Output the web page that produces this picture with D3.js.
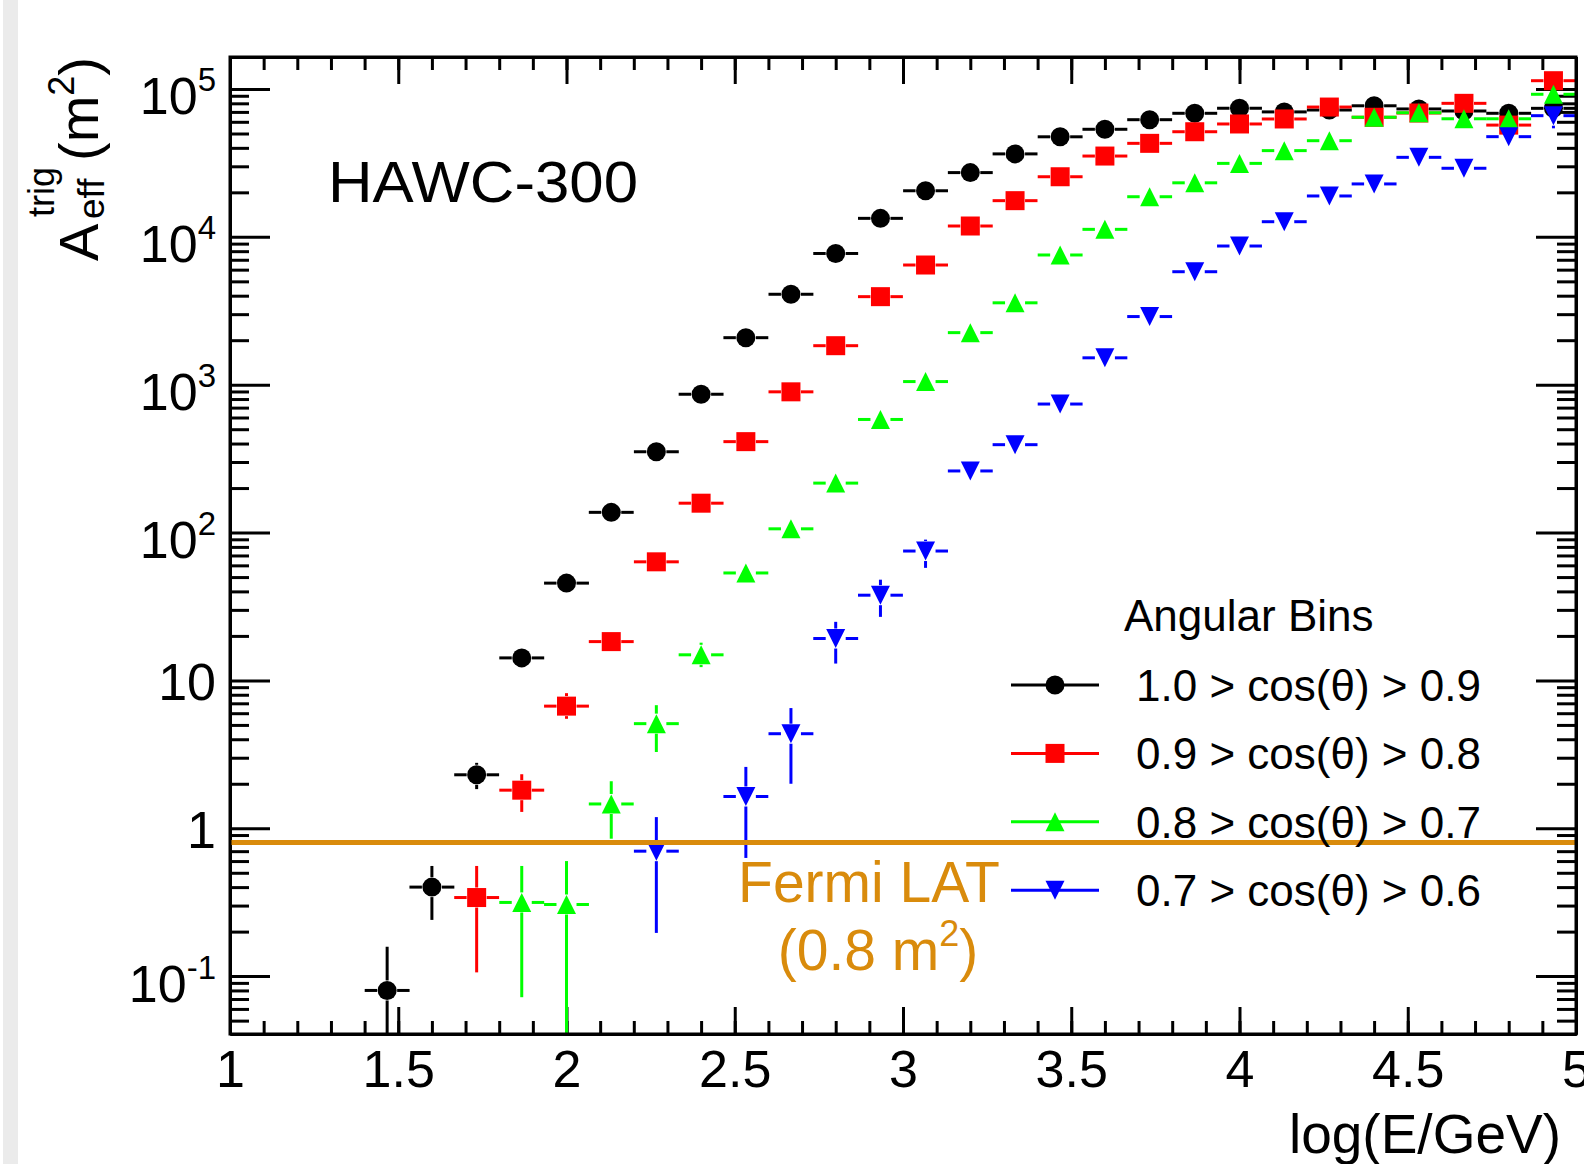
<!DOCTYPE html>
<html>
<head>
<meta charset="utf-8">
<script src="https://cdn.jsdelivr.net/npm/d3@7"></script>
<style>
  body { margin: 0; background: #fff; }
  svg { display: block; }
  text { font-family: "Liberation Sans", Arial, Helvetica, sans-serif; }
</style>
</head>
<body>
<svg id="chart" width="1584" height="1164"></svg>
<script>
// log10(E/GeV) bin centres (30 bins from 1 to 5, only filled ones kept)
const binCentres = [1.467, 1.6, 1.733, 1.867, 2.0, 2.133, 2.267, 2.4, 2.533, 2.667, 2.8, 2.933, 3.067,
  3.2, 3.333, 3.467, 3.6, 3.733, 3.867, 4.0, 4.133, 4.267, 4.4, 4.533, 4.667, 4.8, 4.933];
const binHalfWidth = 0.0667;

// effective area (m^2) per angular bin
const bin1 = [0.08, 0.40, 2.3, 14.2, 45.5, 137, 352, 862, 2080, 4090, 7720, 13340, 20500,
  27200, 36400, 47500, 53400, 62000, 68500, 74100, 70000, 72100, 77000, 73300, 71000, 68500, 74000];
const bin1Lo = [0.01, 0.24, 1.84];
const bin1Hi = [0.158, 0.556, 2.77];

const bin2 = [null, null, 0.34, 1.81, 6.7, 18.3, 63.4, 158, 412, 895, 1836, 3940, 6450,
  11840, 17570, 25500, 35200, 42900, 51400, 58000, 62700, 75500, 64400, 68800, 80000, 57000, 113800];
const bin2Lo = [null, null, 0.106, 1.29, 5.5];
const bin2Hi = [null, null, 0.556, 2.32, 8.2];

const bin3 = [null, null, null, 0.315, 0.305, 1.46, 5.1, 14.9, 53.3, 106, 216, 582, 1050,
  2250, 3580, 7540, 11240, 18680, 23200, 31400, 38300, 44700, 64400, 69100, 62900, 62900, 92100];
const bin3Lo = [null, null, null, 0.072, 0.01, 0.85, 3.28, 12.3];
const bin3Hi = [null, null, null, 0.556, 0.60, 2.08, 6.8, 18];

const bin4 = [null, null, null, null, null, null, 0.70, null, 1.64, 4.36, 19.2, 37.7, 75,
  261, 393, 740, 1520, 2890, 5810, 8670, 12660, 18900, 22800, 34500, 29100, 47600, 66000];
const bin4Lo = [null, null, null, null, null, null, 0.196, null, 0.63, 2.0, 13.0, 26.9, 57.7];
bin4Lo[26] = 54200;
const bin4Hi = [null, null, null, null, null, null, 1.19, null, 2.6, 6.5, 24.9, 48, 89.6];

const legendLabels = ["1.0 > cos(\u03b8) > 0.9", "0.9 > cos(\u03b8) > 0.8",
  "0.8 > cos(\u03b8) > 0.7", "0.7 > cos(\u03b8) > 0.6"];

const xTicks = [1, 1.5, 2, 2.5, 3, 3.5, 4, 4.5, 5];
const yTicks = [0.1, 1, 10, 100, 1000, 10000, 100000];
const fermiArea = 0.8;

const svg = d3.select("#chart");
const pLeft = 230, pRight = 1576, pTop = 57, pBottom = 1034;

svg.append("rect").attr("x", 3).attr("y", 0).attr("width", 15).attr("height", 1164).attr("fill", "#ebebeb");

const x = d3.scaleLinear().domain([1, 5]).range([pLeft, pRight]);
const y = d3.scaleLog().domain([0.0406, 1.646e5]).range([pBottom, pTop]);

svg.append("defs").append("clipPath").attr("id", "plotclip")
  .append("rect").attr("x", pLeft).attr("y", pTop).attr("width", pRight - pLeft).attr("height", pBottom - pTop);

// ---- axes ----
function styleAxis(g) {
  g.select(".domain").attr("stroke-width", 3);
  g.selectAll(".tick line").attr("stroke-width", 3);
}

const xMinor = d3.range(11, 50).map(d => d / 10);
const yMinor = [];
for (let k = -2; k <= 5; k++) for (let m = 2; m <= 9; m++) {
  const v = m * Math.pow(10, k);
  if (v > y.domain()[0] && v < y.domain()[1]) yMinor.push(v);
}

// bottom
svg.append("g").attr("transform", `translate(0,${pBottom})`)
  .call(d3.axisBottom(x).tickValues(xMinor).tickSize(-13).tickSizeOuter(0).tickFormat(""))
  .call(styleAxis);
const xAx = svg.append("g").attr("transform", `translate(0,${pBottom})`)
  .call(d3.axisBottom(x).tickValues(xTicks).tickSize(-27).tickSizeOuter(0).tickPadding(16).tickFormat(d3.format("")))
  .call(styleAxis);
xAx.selectAll(".tick text").attr("font-size", 52).attr("font-family", "Liberation Sans, Arial, sans-serif").attr("fill", "#000");

// top
svg.append("g").attr("transform", `translate(0,${pTop})`)
  .call(d3.axisTop(x).tickValues(xMinor).tickSize(-13).tickSizeOuter(0).tickFormat(""))
  .call(styleAxis);
svg.append("g").attr("transform", `translate(0,${pTop})`)
  .call(d3.axisTop(x).tickValues(xTicks).tickSize(-27).tickSizeOuter(0).tickFormat(""))
  .call(styleAxis);

// left
svg.append("g").attr("transform", `translate(${pLeft},0)`)
  .call(d3.axisLeft(y).tickValues(yMinor).tickSize(-19).tickSizeOuter(0).tickFormat(""))
  .call(styleAxis);
const yAx = svg.append("g").attr("transform", `translate(${pLeft},0)`)
  .call(d3.axisLeft(y).tickValues(yTicks).tickSize(-40).tickSizeOuter(0).tickPadding(14).tickFormat(() => ""))
  .call(styleAxis);
yAx.selectAll(".tick text")
  .attr("font-size", 52).attr("font-family", "Liberation Sans, Arial, sans-serif").attr("fill", "#000")
  .attr("dy", "0.36em")
  .each(function (d) {
    const t = d3.select(this);
    const e = Math.round(Math.log10(d));
    if (e === 0) { t.text("1"); return; }
    if (e === 1) { t.text("10"); return; }
    t.attr("dy", "0.48em");
    t.append("tspan").text("10");
    t.append("tspan").attr("font-size", 33).attr("dy", -23).text(e);
  });

// right
svg.append("g").attr("transform", `translate(${pRight},0)`)
  .call(d3.axisRight(y).tickValues(yMinor).tickSize(-19).tickSizeOuter(0).tickFormat(""))
  .call(styleAxis);
svg.append("g").attr("transform", `translate(${pRight},0)`)
  .call(d3.axisRight(y).tickValues(yTicks).tickSize(-40).tickSizeOuter(0).tickFormat(""))
  .call(styleAxis);

// ---- markers ----
const R = 9.5;
function marker(g, shape, cx, cy, color) {
  if (shape === "circle") {
    g.append("circle").attr("cx", cx).attr("cy", cy).attr("r", R).attr("fill", color);
  } else if (shape === "square") {
    g.append("rect").attr("x", cx - R).attr("y", cy - R).attr("width", 2 * R).attr("height", 2 * R).attr("fill", color);
  } else if (shape === "up") {
    g.append("path").attr("d", `M${cx - R},${cy + R}L${cx + R},${cy + R}L${cx},${cy - R}Z`).attr("fill", color);
  } else {
    g.append("path").attr("d", `M${cx - R},${cy - R}L${cx + R},${cy - R}L${cx},${cy + R}Z`).attr("fill", color);
  }
}

const series = [
  { vals: bin1, lo: bin1Lo, hi: bin1Hi, color: "#000000", shape: "circle" },
  { vals: bin2, lo: bin2Lo, hi: bin2Hi, color: "#ff0000", shape: "square" },
  { vals: bin3, lo: bin3Lo, hi: bin3Hi, color: "#00ff00", shape: "up" },
  { vals: bin4, lo: bin4Lo, hi: bin4Hi, color: "#0000ff", shape: "down" }
];

const plot = svg.append("g").attr("clip-path", "url(#plotclip)");
series.forEach(s => {
  const g = plot.append("g");
  s.vals.forEach((v, i) => {
    if (v == null) return;
    const c = binCentres[i];
    const cx = x(c), cy = y(v);
    const segs = [
      [x(c - binHalfWidth), cy, cx - 10, cy],
      [cx + 10, cy, x(c + binHalfWidth), cy]
    ];
    if (s.hi[i] != null && cy - y(s.hi[i]) > 10) segs.push([cx, cy - 10, cx, y(s.hi[i])]);
    if (s.lo[i] != null && y(s.lo[i]) - cy > 10) segs.push([cx, cy + 10, cx, y(s.lo[i])]);
    segs.forEach(p => g.append("line")
      .attr("x1", p[0]).attr("y1", p[1]).attr("x2", p[2]).attr("y2", p[3])
      .attr("stroke", s.color).attr("stroke-width", 3));
    marker(g, s.shape, cx, cy, s.color);
  });
});

// Fermi LAT line
const orange = "#d98b0c";
svg.append("line").attr("x1", pLeft).attr("x2", pRight).attr("y1", y(fermiArea)).attr("y2", y(fermiArea))
  .attr("stroke", orange).attr("stroke-width", 5);

// frame
svg.append("rect").attr("x", pLeft).attr("y", pTop).attr("width", pRight - pLeft).attr("height", pBottom - pTop)
  .attr("fill", "none").attr("stroke", "#000").attr("stroke-width", 3);

// ---- texts ----
const gill = "Lato, 'Open Sans', sans-serif";
svg.append("text").attr("x", 328).attr("y", 202).attr("font-family", gill).attr("font-size", 57)
  .attr("textLength", 310).attr("lengthAdjust", "spacingAndGlyphs")
  .attr("fill", "#000").text("HAWC-300");

svg.append("text").attr("x", 869).attr("y", 902).attr("text-anchor", "middle").attr("font-family", gill)
  .attr("font-size", 57).attr("fill", orange).text("Fermi LAT");
const ft = svg.append("text").attr("x", 878).attr("y", 970).attr("text-anchor", "middle").attr("font-family", gill)
  .attr("font-size", 57).attr("fill", orange);
ft.append("tspan").text("(0.8 m");
ft.append("tspan").attr("font-size", 36).attr("dy", -24).text("2");
ft.append("tspan").attr("dy", 24).text(")");

// x title
svg.append("text").attr("x", 1561).attr("y", 1153).attr("text-anchor", "end").attr("font-size", 55)
  .attr("fill", "#000").text("log(E/GeV)");

// y title
const yt = svg.append("g").attr("transform", "translate(98,261) rotate(-90)");
yt.append("text").attr("x", 0).attr("y", 0).attr("font-size", 56).text("A");
yt.append("text").attr("x", 42).attr("y", 6).attr("font-size", 37).text("eff");
yt.append("text").attr("x", 44).attr("y", -44).attr("font-size", 36).text("trig");
const ym = yt.append("text").attr("x", 100).attr("y", 0).attr("font-size", 56);
ym.append("tspan").text("(m");
ym.append("tspan").attr("font-size", 36).attr("dy", -24).text("2");
ym.append("tspan").attr("dy", 24).text(")");

// legend
const legendX = 1011, legendW = 88, legendTop = 685, legendStep = 68.4;
svg.append("text").attr("x", 1124).attr("y", 631).attr("font-size", 44).attr("fill", "#000").text("Angular Bins");
series.forEach((s, i) => {
  const ly = legendTop + i * legendStep;
  const g = svg.append("g");
  g.append("line").attr("x1", legendX).attr("x2", legendX + legendW).attr("y1", ly).attr("y2", ly)
    .attr("stroke", s.color).attr("stroke-width", 3);
  marker(g, s.shape, legendX + legendW / 2, ly, s.color);
  g.append("text").attr("x", 1136).attr("y", ly + 16).attr("font-size", 44).attr("fill", "#000").text(legendLabels[i]);
});
</script>
</body>
</html>
